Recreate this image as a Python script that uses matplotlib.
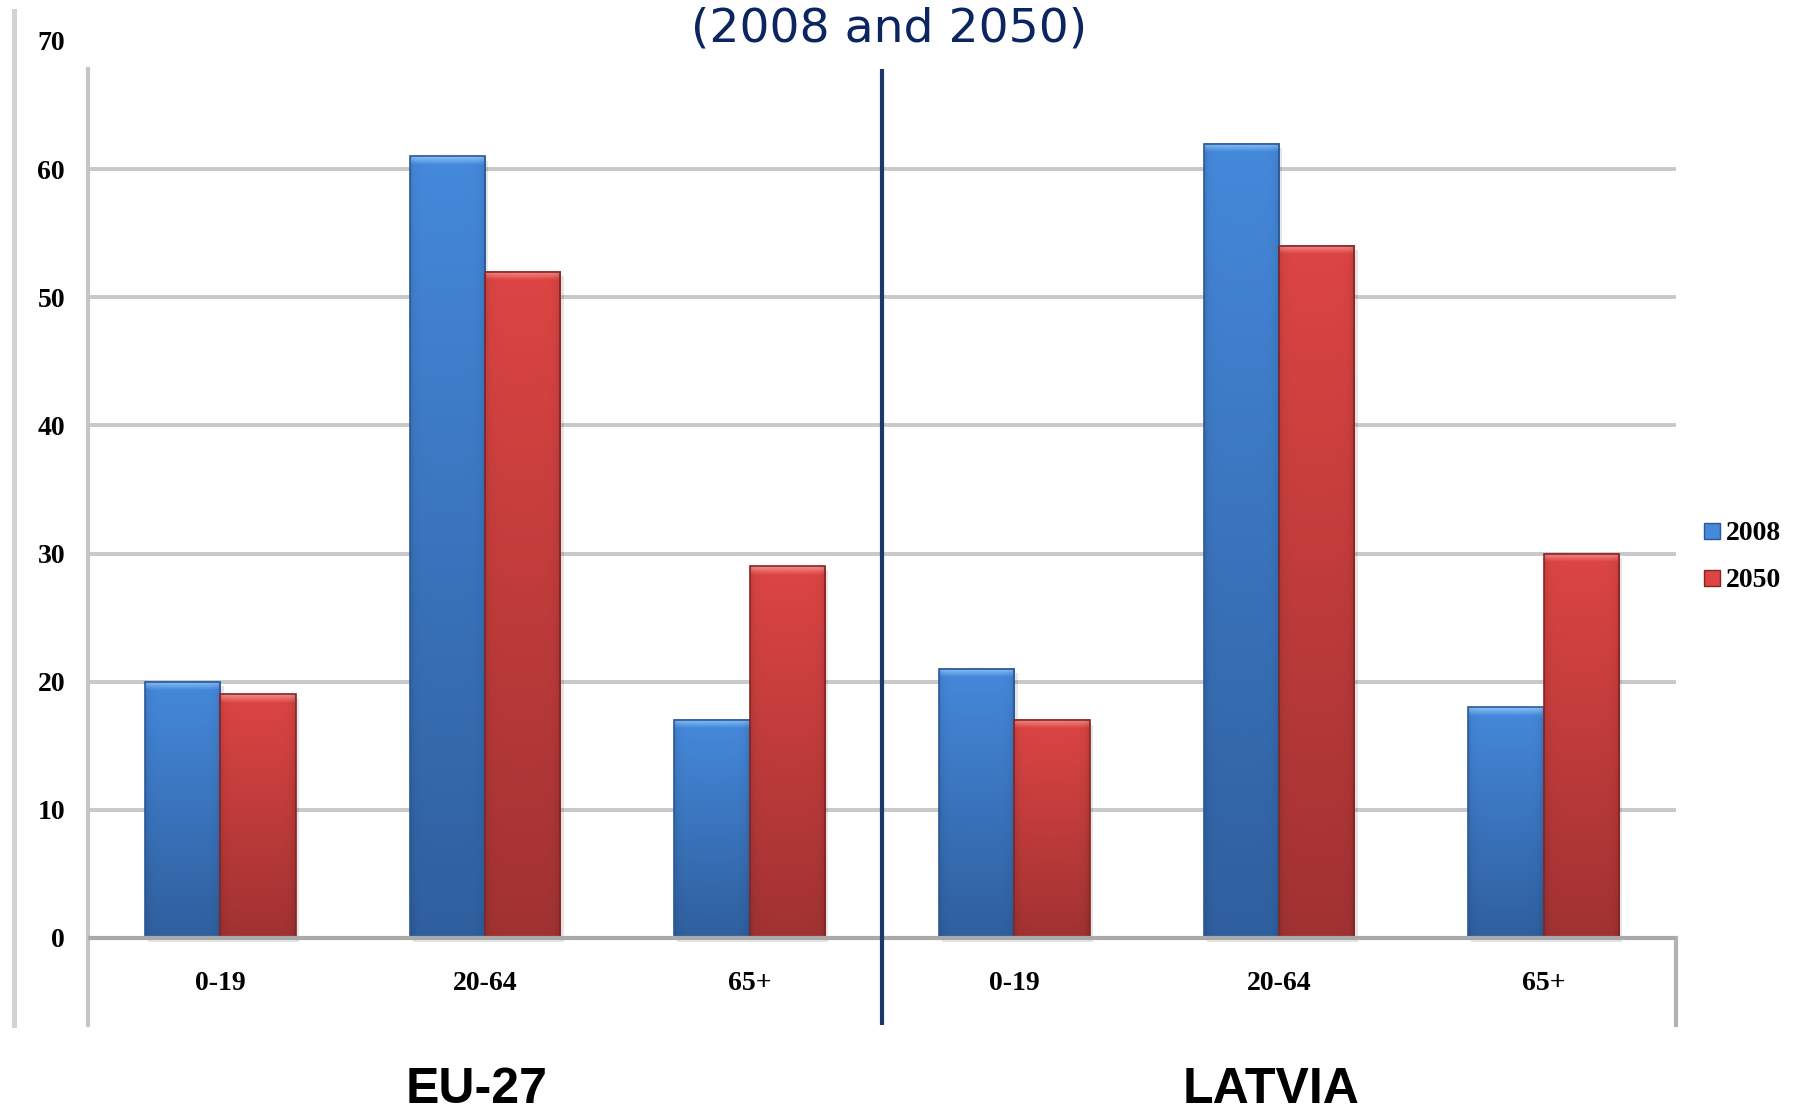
import numpy as np
import matplotlib
matplotlib.use("Agg")
import matplotlib.pyplot as plt
import matplotlib.transforms as mtransforms
from matplotlib.patches import Rectangle
from matplotlib.lines import Line2D
from matplotlib.colors import to_rgb

# ---- data -------------------------------------------------------------
regions = ["EU-27", "LATVIA"]
age_groups = ["0-19", "20-64", "65+"]
years = ["2008", "2050"]
eu27_2008 = [20, 61, 17]
eu27_2050 = [19, 52, 29]
latvia_2008 = [21, 62, 18]
latvia_2050 = [17, 54, 30]
y_ticks = [0, 10, 20, 30, 40, 50, 60, 70]
grid_levels = [10, 20, 30, 40, 50, 60]
title = "(2008 and 2050)"

# ---- style ------------------------------------------------------------
W, H = 1793, 1114
SERIF = "Liberation Serif"
SANS = "Liberation Sans"
BLUE = dict(top="#4589db", bottom="#2f5f9e", cap="#8cc5fa", edge="#2b5797")
RED = dict(top="#dc4543", bottom="#a13232", cap="#f7908d", edge="#862424")
BAR_W = 0.285
Y_MIN, Y_TOP = -6.8, 67.8


def shade(top, bottom, n=200, m=48):
    """Vertical gradient (bottom -> top) with slightly darker side edges."""
    top = np.array(to_rgb(top))
    bottom = np.array(to_rgb(bottom))
    t = np.linspace(0, 1, n)[:, None, None]
    col = bottom + (top - bottom) * t
    u = np.linspace(0, 1, m)[None, :, None]
    f = 1 - 0.10 * np.exp(-u / 0.05) - 0.12 * np.exp(-(1 - u) / 0.05)
    return np.clip(col * f, 0, 1)


def paint(ax, bars, c):
    body = shade(c["top"], c["bottom"])
    cap = shade(c["cap"], c["top"], n=24)
    for r in bars:
        x0, w, h = r.get_x(), r.get_width(), r.get_height()
        ax.add_patch(Rectangle((x0 + 0.012, -0.35), w, h, facecolor="black",
                               alpha=0.10, lw=0, zorder=2.5))
        ax.imshow(body, extent=(x0, x0 + w, 0, h), origin="lower",
                  aspect="auto", interpolation="bilinear", zorder=3)
        ax.imshow(cap, extent=(x0, x0 + w, h - 0.65, h), origin="lower",
                  aspect="auto", interpolation="bilinear", zorder=3.1)
        ax.add_patch(Rectangle((x0, 0), w, h, fill=False, edgecolor=c["edge"],
                               lw=1.2, zorder=3.2))


fig = plt.figure(figsize=(W / 100, H / 100), dpi=100)
fig.patch.set_facecolor("white")
ax = fig.add_axes([88 / W, 1 - 1025 / H, (1676 - 88) / W, (1025 - 41) / H])

vals_2008 = eu27_2008 + latvia_2008
vals_2050 = eu27_2050 + latvia_2050
cats = age_groups * len(regions)
x = np.arange(len(cats))

bars_a = ax.bar(x - BAR_W / 2, vals_2008, width=BAR_W, color=BLUE["top"],
                lw=0, zorder=2.8)
bars_b = ax.bar(x + BAR_W / 2, vals_2050, width=BAR_W, color=RED["top"],
                lw=0, zorder=2.8)
paint(ax, bars_a, BLUE)
paint(ax, bars_b, RED)

# grid and frame
for g in grid_levels:
    ax.axhline(g, color="#c8c8c8", lw=2.8, zorder=1)
ax.axhline(0, color="#a9a9a9", lw=3, zorder=5)

for s in ("top", "bottom"):
    ax.spines[s].set_visible(False)
ax.spines["left"].set_bounds(Y_MIN, Y_TOP)
ax.spines["left"].set_color("#c4c4c4")
ax.spines["left"].set_linewidth(3)
ax.spines["right"].set_bounds(Y_MIN, 0)
ax.spines["right"].set_color("#b3b3b3")
ax.spines["right"].set_linewidth(3)

# divider between the two regions
split = len(age_groups) - 0.5
ax.plot([split, split], [Y_MIN, Y_TOP], color="#1b3868", lw=3,
        solid_capstyle="butt", zorder=6)

ax.set_yticks(y_ticks)
ax.set_yticklabels([str(v) for v in y_ticks], fontfamily=SERIF,
                   fontweight="bold", fontsize=20)
ax.tick_params(axis="y", length=0, pad=16.5)
ax.set_xticks([])

for xi, lab in zip(x, cats):
    ax.text(xi, -4.05, lab, ha="center", va="baseline", fontfamily=SERIF,
            fontweight="bold", fontsize=20)

# region names under each group
blend = mtransforms.blended_transform_factory(ax.transData, fig.transFigure)
n = len(age_groups)
for i, reg in enumerate(regions):
    cx = np.mean(x[i * n:(i + 1) * n]) - 0.03
    ax.text(cx, 1 - 1103 / H, reg, transform=blend, ha="center",
            va="baseline", fontfamily=SANS, fontweight="bold", fontsize=36,
            clip_on=False)

ax.set_xlim(-0.5, len(cats) - 0.5)
ax.set_ylim(Y_MIN, 70)

# outer guide line
fig.add_artist(Line2D([14 / W, 14 / W], [1 - 11 / H, 1 - 1025 / H],
                      color="#d3d3d3", lw=3.6, transform=fig.transFigure))

# legend
for i, (yr, c) in enumerate(zip(years, (BLUE, RED))):
    yc = 531 + i * 47
    fig.add_artist(Rectangle((1704 / W, 1 - (yc + 8) / H), 16 / W, 16 / H,
                             transform=fig.transFigure, facecolor=c["top"],
                             edgecolor=c["edge"], lw=1))
    fig.text(1726 / W, 1 - (yc + 9) / H, yr, ha="left", va="baseline",
             fontfamily=SERIF, fontweight="bold", fontsize=20)

# title
fig.text(889.5 / W, 1 - 42 / H, title, ha="center", va="baseline",
         fontfamily="DejaVu Sans", fontsize=34, color="#0b2561")

fig.savefig("out.png", dpi=100, facecolor="white")
